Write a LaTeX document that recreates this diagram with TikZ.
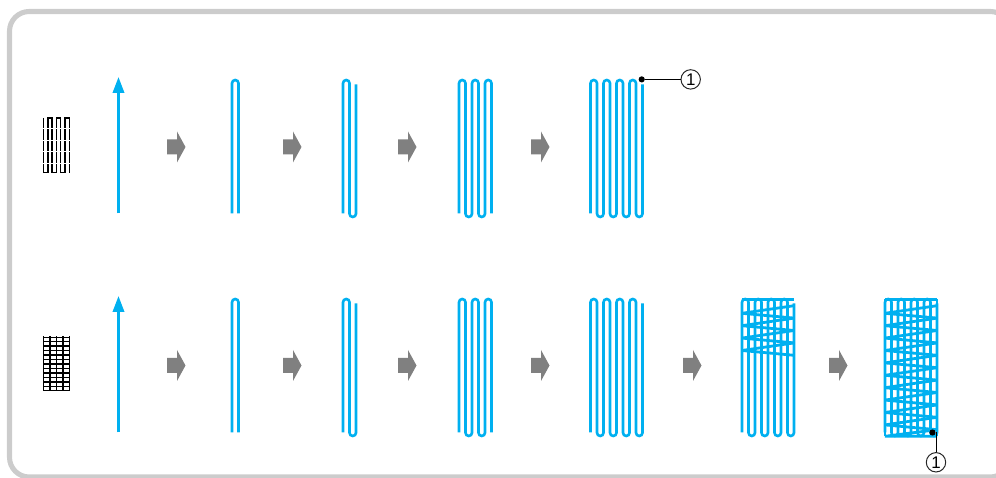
\documentclass[tikz,border=0pt]{standalone}
\usepackage{fontspec}
\setmainfont{Liberation Sans}
\usetikzlibrary{arrows.meta,positioning}
\definecolor{StitchBlue}{RGB}{0,176,240}
\definecolor{StepGray}{RGB}{128,128,128}
\definecolor{PanelGray}{RGB}{204,204,204}
\tikzset{
  panel/.style={draw=PanelGray,line width=3.6pt,rounded corners=14pt},
  stitch/.style={draw=StitchBlue,line width=1.85pt,rounded corners=2.3pt},
  tackline/.style={draw=StitchBlue,line width=2pt,line join=bevel},
  startline/.style={-{Triangle[length=11.3pt,width=8pt]},draw=StitchBlue,line width=1.85pt},
  iconline/.style={draw=black,line width=1pt},
  icongap/.style={draw=white,line width=0.55pt},
  callout/.style={draw=black!85,circle,line width=0.7pt,minimum size=13.8pt,inner sep=0pt,font=\fontsize{12}{12}\selectfont},
  stitchdot/.style={fill=black,circle,minimum size=4.4pt,inner sep=0pt},
  leader/.style={draw=black,line width=0.7pt},
  stepmark/.pic={
    \fill[StepGray] (0,-7.5) -- (10,-7.5) -- (10,-15.5) -- (18.5,0) -- (10,15.5) -- (10,7.5) -- (0,7.5) -- cycle;
  },
  twostrand/.pic={
    \draw[stitch] (0,213.5) -- (0,80) -- (6.5,80) -- (6.5,213.5);
  },
  threestrand/.pic={
    \draw[stitch] (0,213.5) -- (0,80) -- (6.5,80) -- (6.5,217) -- (13,217) -- (13,84.5);
  },
  sixstrand/.pic={
    \draw[stitch] (0,213.5) -- (0,80) -- (6.5,80) -- (6.5,217) -- (13,217) -- (13,80)
      -- (19.5,80) -- (19.5,217) -- (26,217) -- (26,80) -- (32.5,80) -- (32.5,213.5);
  },
  ninestrand/.pic={
    \draw[stitch] (0,213.5) -- (0,80) -- (6.5,80) -- (6.5,217) -- (13,217) -- (13,80)
      -- (19.5,80) -- (19.5,217) -- (26,217) -- (26,80) -- (32.5,80) -- (32.5,217)
      -- (39,217) -- (39,80) -- (45.5,80) -- (45.5,217) -- (52,217) -- (52,84.5);
  }
}
\begin{document}
\begin{tikzpicture}[x=0.025cm,y=-0.025cm]
  \useasboundingbox (0,0) rectangle (996,478);
  \draw[panel] (9.5,11.5) rectangle (1010,477);

  % top row
  \coordinate (starta) at (118.5,213.5);
  \coordinate (enda) at (118.5,77);
  \draw[startline] (starta) -- (enda);
  \pic at (232,0) {twostrand};
  \pic at (343,0) {threestrand};
  \pic at (459,0) {sixstrand};
  \pic at (590.5,0) {ninestrand};
  \foreach \xstep in {167,283,398,531}
    \pic at (\xstep,147) {stepmark};
  \node[stitchdot] (dota) at (641.7,79.4) {};
  \node[callout] (numa) at (690.7,79.4) {1};
  \draw[leader] (dota) -- (numa);

  % bottom row
  \coordinate (startb) at (118.5,432.5);
  \coordinate (endb) at (118.5,296);
  \draw[startline] (startb) -- (endb);
  \pic at (232,219) {twostrand};
  \pic at (343,219) {threestrand};
  \pic at (459,219) {sixstrand};
  \pic at (590.5,219) {ninestrand};
  \pic at (742,219) {ninestrand};
  \pic at (885,219) {ninestrand};
  \foreach \xstep in {167,283,398,531,683,829}
    \pic at (\xstep,365.5) {stepmark};

  % tack lines over the strands
  \draw[tackline] (742,299.5) -- (794,299.5);
  \foreach \i in {0,...,3}
    \draw[tackline] (794,{305.7+12.4*\i}) -- (742,{313.3+12.4*\i}) -- (794,{318.1+12.4*\i});
  \draw[tackline] (885,299.5) -- (937,299.5);
  \foreach \i in {0,...,9}
    \draw[tackline] (937,{305.7+12.4*\i}) -- (885,{313.3+12.4*\i}) -- (937,{318.1+12.4*\i});
  \draw[tackline] (937,429.7) -- (885,436.3) -- (937,436.3);
  \draw[tackline] (885,299.5) -- (885,436.3);
  \draw[tackline] (937,299.5) -- (937,436.3);
  \node[stitchdot] (dotb) at (932.5,432.5) {};
  \node[callout] (numb) at (936,462.3) {1};
  \coordinate (tipb) at (936,432.5);
  \draw[leader] (tipb) -- (numb);

  % icons
  \draw[iconline] (43.5,118) -- (43.5,172.5) -- (47.8,172.5) -- (47.8,118) -- (52.1,118) -- (52.1,172.5) -- (56.4,172.5)
    -- (56.4,118) -- (60.7,118) -- (60.7,172.5) -- (65,172.5) -- (65,118) -- (69.3,118) -- (69.3,173);
  \foreach \ygap in {128,140,151.5,163}
    \draw[icongap] (41,\ygap) -- (72,\ygap);
  \foreach \xgrid in {43.5,50,56.4,62.9,69.3}
    \draw[iconline] (\xgrid,336.5) -- (\xgrid,391);
  \foreach \i in {0,...,12}
    \draw[iconline] (43,{337.3+4.45*\i}) -- (70,{337.3+4.45*\i});
\end{tikzpicture}
\end{document}
